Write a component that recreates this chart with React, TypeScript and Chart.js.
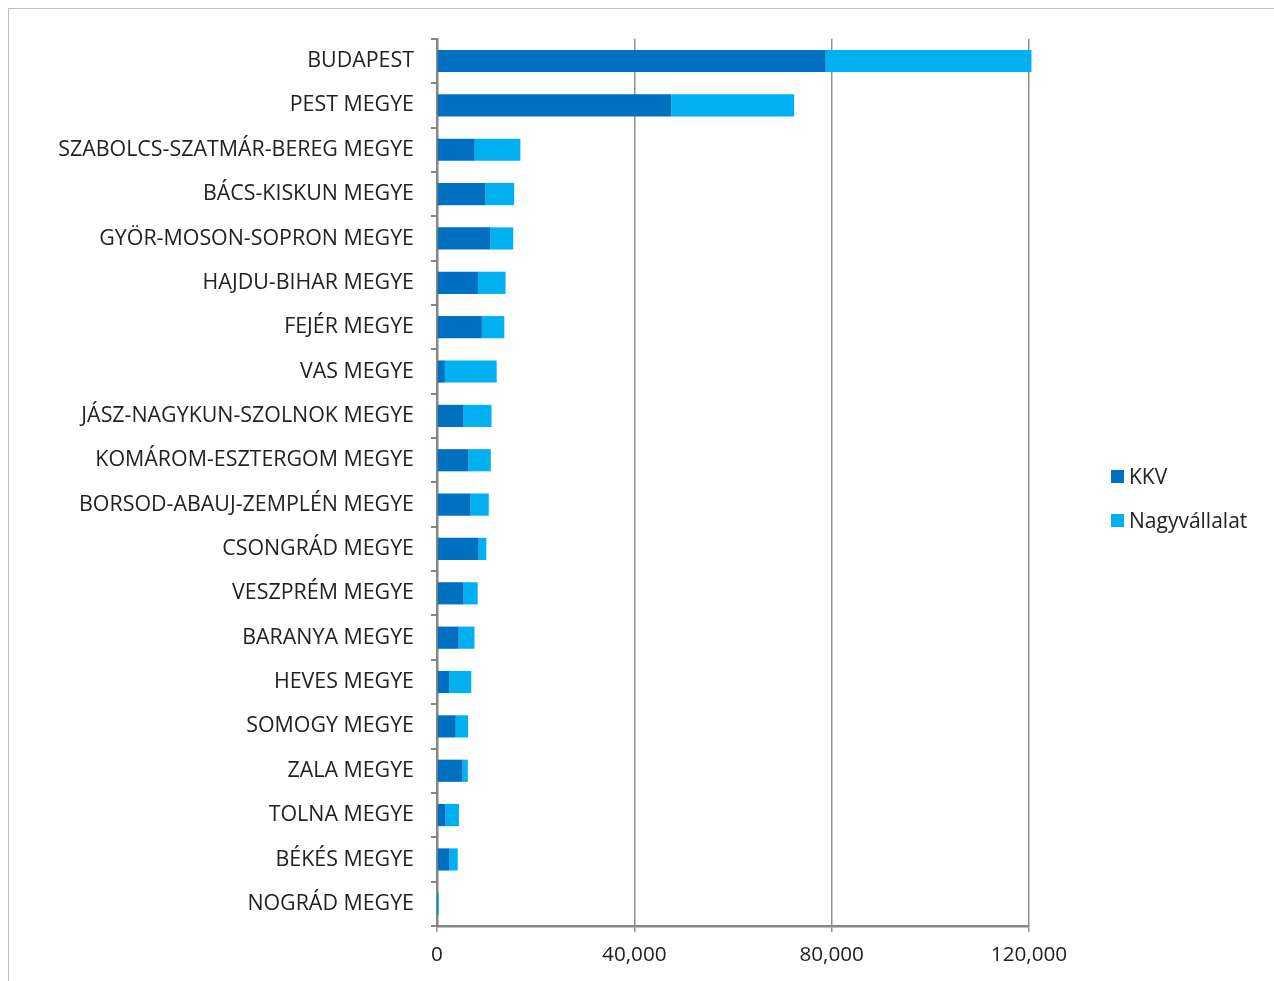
import React, { useEffect, useRef } from "react";
import { Chart, registerables } from "chart.js";

Chart.register(...registerables);

const categories = [
  "BUDAPEST",
  "PEST MEGYE",
  "SZABOLCS-SZATMÁR-BEREG MEGYE",
  "BÁCS-KISKUN MEGYE",
  "GYÖR-MOSON-SOPRON MEGYE",
  "HAJDU-BIHAR MEGYE",
  "FEJÉR MEGYE",
  "VAS MEGYE",
  "JÁSZ-NAGYKUN-SZOLNOK MEGYE",
  "KOMÁROM-ESZTERGOM MEGYE",
  "BORSOD-ABAUJ-ZEMPLÉN MEGYE",
  "CSONGRÁD MEGYE",
  "VESZPRÉM MEGYE",
  "BARANYA MEGYE",
  "HEVES MEGYE",
  "SOMOGY MEGYE",
  "ZALA MEGYE",
  "TOLNA MEGYE",
  "BÉKÉS MEGYE",
  "NOGRÁD MEGYE",
];

const kkv = [78800, 47500, 7650, 9850, 10850, 8300, 9100, 1600, 5400, 6400, 6800, 8450, 5400, 4400, 2450, 3800, 5200, 1750, 2550, 50];
const nagyvallalat = [41700, 24900, 9250, 5800, 4600, 5600, 4550, 10500, 5650, 4500, 3700, 1550, 2850, 3200, 4500, 2500, 1050, 2700, 1650, 300];

const xTicks = [0, 40000, 80000, 120000];

const seriesNames = ["KKV", "Nagyvállalat"];
const seriesColors = ["#0070C0", "#00B0F0"];

const FONT = "'Open Sans', 'Noto Sans', sans-serif";
const TEXT = "#222222";
const AXIS = "#868686";

export default function App() {
  const ref = useRef<HTMLCanvasElement | null>(null);

  useEffect(() => {
    document.documentElement.style.overflow = "hidden";
    document.body.style.margin = "0";
    document.body.style.overflow = "hidden";
    if (!ref.current) return;
    const chart = new Chart(ref.current, {
      type: "bar",
      data: {
        labels: categories,
        datasets: [
          {
            label: seriesNames[0],
            data: kkv,
            backgroundColor: seriesColors[0],
            barPercentage: 0.5,
            categoryPercentage: 1,
            clip: false,
          },
          {
            label: seriesNames[1],
            data: nagyvallalat,
            backgroundColor: seriesColors[1],
            barPercentage: 0.5,
            categoryPercentage: 1,
            clip: false,
          },
        ],
      },
      options: {
        indexAxis: "y",
        animation: false,
        responsive: false,
        maintainAspectRatio: false,
        layout: { padding: { top: 29, bottom: 15, left: 0, right: 244 } },
        plugins: {
          legend: { display: false },
          tooltip: { enabled: false },
        },
        scales: {
          x: {
            stacked: true,
            min: 0,
            max: 120000,
            afterBuildTicks: (s: any) => {
              s.ticks = xTicks.map((v) => ({ value: v }));
            },
            afterFit: (s: any) => {
              s.height = 40;
            },
            ticks: {
              color: TEXT,
              font: { family: FONT, size: 20.7 },
              padding: 11,
              maxRotation: 0,
              callback: (v: any) => Number(v).toLocaleString("en-US"),
            },
            grid: {
              color: "#8f8f8f",
              lineWidth: 1.5,
              tickLength: 6,
              drawTicks: true,
            },
            border: { display: true, color: AXIS, width: 2.5 },
          },
          y: {
            stacked: true,
            afterFit: (s: any) => {
              s.width = 428;
            },
            ticks: {
              color: TEXT,
              font: { family: FONT, size: 21.4 },
              padding: 17,
              autoSkip: false,
            },
            grid: {
              offset: true,
              drawOnChartArea: false,
              color: AXIS,
              lineWidth: 2,
              tickLength: 6,
            },
            border: { display: true, color: AXIS, width: 2.5 },
          },
        },
      },
    });
    return () => chart.destroy();
  }, []);

  return (
    <div
      style={{
        position: "fixed",
        left: 8,
        top: 8,
        width: 1266,
        height: 973,
        overflow: "hidden",
        borderTop: "1.5px solid #c0c0c0",
        borderLeft: "1.5px solid #c0c0c0",
        boxSizing: "border-box",
        background: "#fff",
      }}
    >
      <canvas ref={ref} width={1264} height={972} style={{ position: "absolute", left: 0, top: 0 }} />
      {seriesNames.map((name, i) => (
        <div
          key={name}
          style={{
            position: "absolute",
            left: 1102,
            top: 454 + i * 44,
            display: "flex",
            alignItems: "center",
            fontFamily: FONT,
            fontSize: 21,
            color: TEXT,
            lineHeight: "26px",
            whiteSpace: "nowrap",
          }}
        >
          <span
            style={{
              display: "inline-block",
              width: 13,
              height: 13,
              background: seriesColors[i],
              marginRight: 5,
            }}
          />
          {name}
        </div>
      ))}
    </div>
  );
}
